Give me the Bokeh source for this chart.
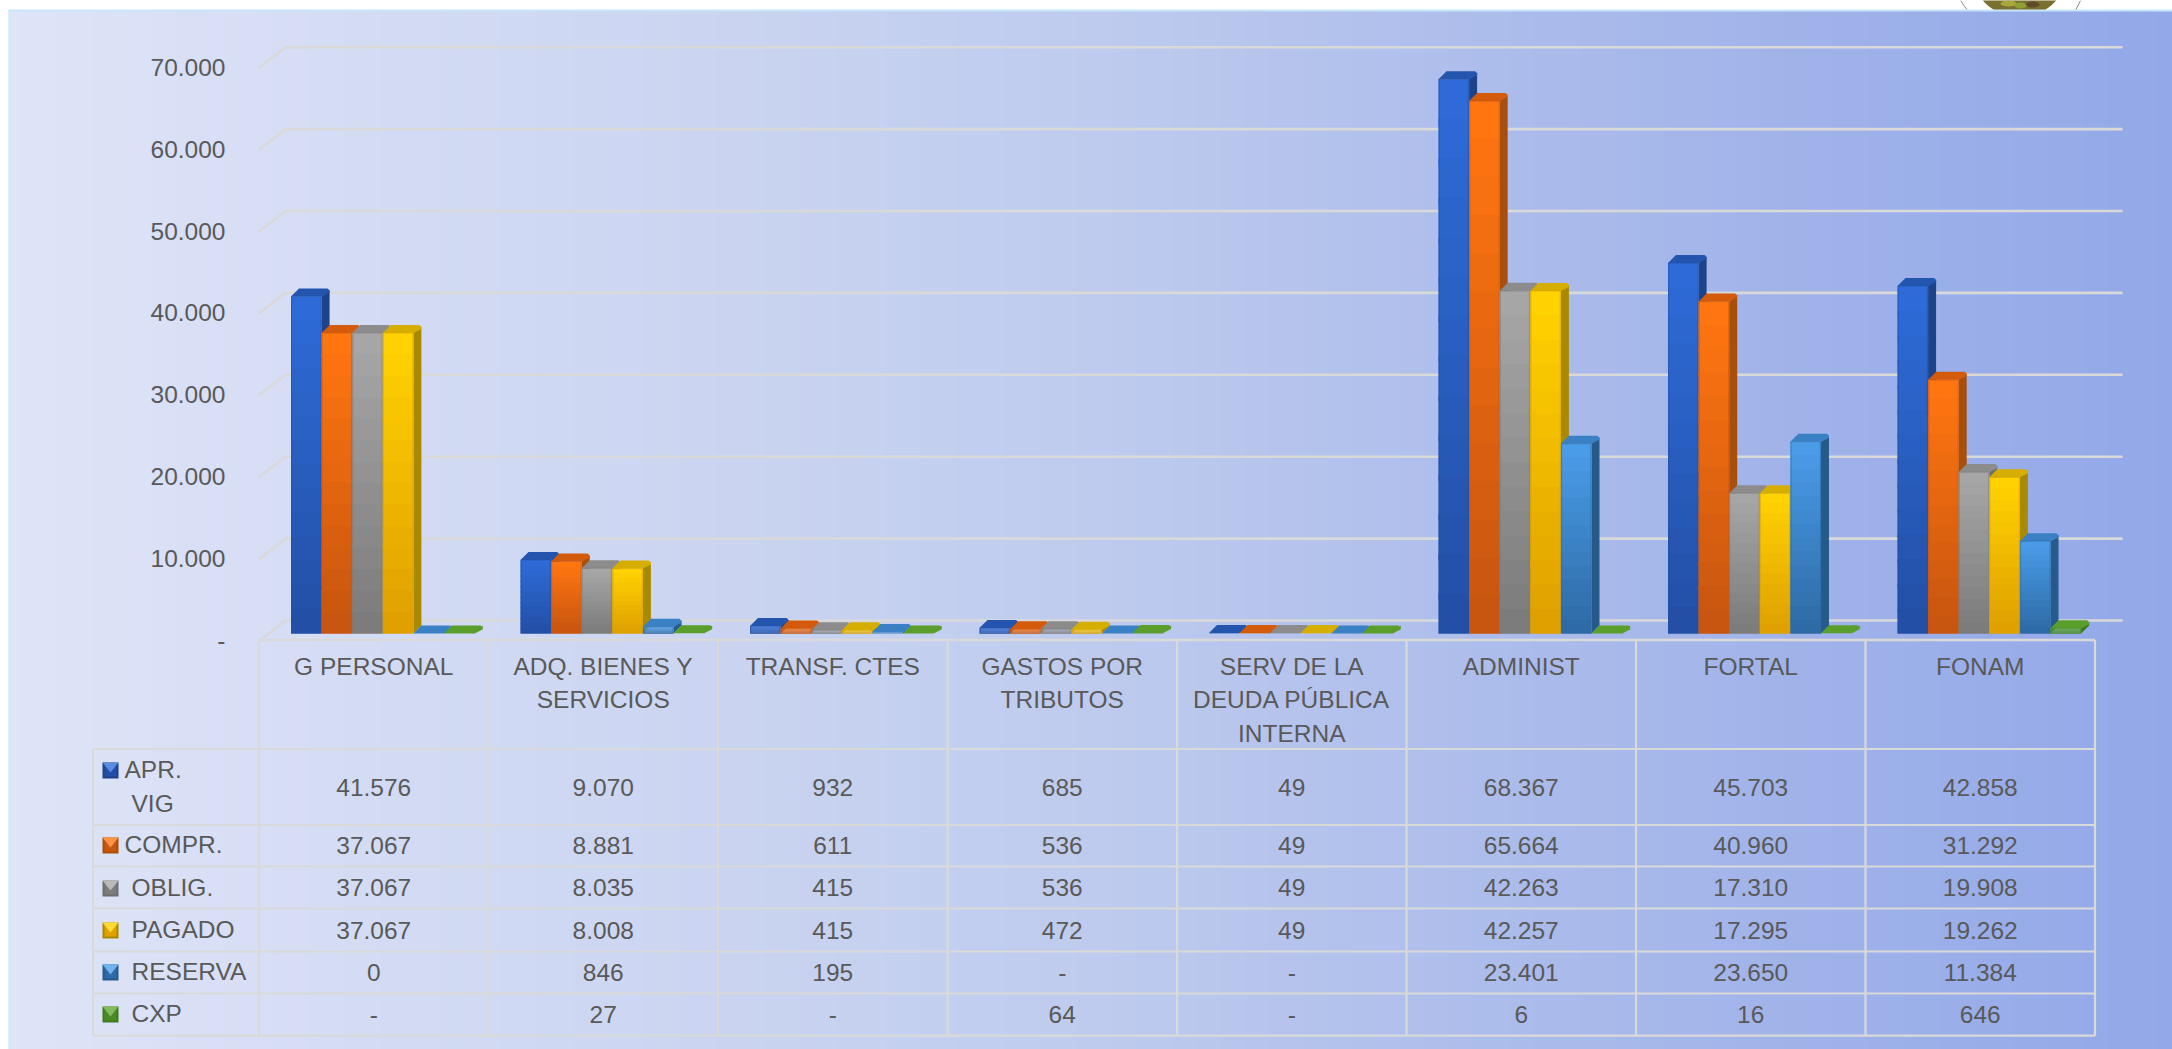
from bokeh.plotting import figure
from bokeh.models import Range1d
from bokeh.core.properties import value
from bokeh.embed import file_html
from bokeh.resources import INLINE

# ---------- data ----------
categories = ["G PERSONAL", "ADQ. BIENES Y\nSERVICIOS", "TRANSF. CTES", "GASTOS POR\nTRIBUTOS",
              "SERV DE LA\nDEUDA PÚBLICA\nINTERNA", "ADMINIST", "FORTAL", "FONAM"]
apr_vig = [41576, 9070, 932, 685, 49, 68367, 45703, 42858]
compr = [37067, 8881, 611, 536, 49, 65664, 40960, 31292]
oblig = [37067, 8035, 415, 536, 49, 42263, 17310, 19908]
pagado = [37067, 8008, 415, 472, 49, 42257, 17295, 19262]
reserva = [0, 846, 195, None, None, 23401, 23650, 11384]
cxp = [None, 27, None, 64, None, 6, 16, 646]
tick_values = [0, 10000, 20000, 30000, 40000, 50000, 60000, 70000]
tick_labels = ["-", "10.000", "20.000", "30.000", "40.000", "50.000", "60.000", "70.000"]
series_names = ["APR.\nVIG", "COMPR.", "OBLIG.", "PAGADO", "RESERVA", "CXP"]
series_values = [apr_vig, compr, oblig, pagado, reserva, cxp]

# ---------- style ----------
FONT = value("Liberation Sans")
TXT = "#595959"
GRID = "#D9D9D9"
FS = "24.5px"
palette = [
    ("#2E6BD8", "#2350A6", "#2355AE", "#1D4388"),
    ("#FF7610", "#C85510", "#D45A0C", "#A94F0C"),
    ("#A6A6A6", "#7C7C7C", "#8C8C8C", "#6E6E6E"),
    ("#FFD200", "#DFA000", "#D6AE00", "#A88900"),
    ("#4A9CE8", "#2E6BA6", "#3A80C4", "#255A8A"),
    ("#5FA82F", "#4A8A25", "#5A9E2C", "#3E7A20"),
]
W, H = 2172, 1049
PXV = 0.00819                 # pixels per unit on the back wall
Y0 = 620.0                    # page y of value 0 on the back wall
def py(v):  # page px -> value
    return (Y0 - v) / PXV

p = figure(width=W, height=H, output_backend="svg", toolbar_location=None,
           x_range=Range1d(0, W), y_range=Range1d(py(H), py(0)),
           min_border=0, min_border_left=0, min_border_right=0, min_border_top=0, min_border_bottom=0)
p.axis.visible = False
p.grid.visible = False
p.outline_line_color = None
p.background_fill_color = "white"
p.border_fill_color = "white"

# seal at the top right, cut by the panel
p.ellipse(x=[2019], y=[py(-32.5)], width=[98], height=[98 / PXV], fill_color="#7A7030", line_color=None)
p.ellipse(x=[2008, 2032, 2020], y=[py(3), py(4), py(5)], width=[16, 14, 12], height=[6 / PXV] * 3,
          fill_color=["#A9A83A", "#5F4A2A", "#8FA035"], line_color=None)
p.segment(x0=[1960, 2080], x1=[1967, 2075], y0=[py(0)] * 2, y1=[py(10)] * 2, line_color="#8A8A8A", line_width=1)

# ---------- background gradient ----------
stops = [(8, (223, 229, 247)), (290, (214, 221, 245)), (700, (203, 213, 241)), (1100, (190, 203, 238)),
         (1500, (172, 188, 235)), (1850, (158, 177, 233)), (2172, (146, 168, 232))]
def grad(x):
    for (a, ca), (b, cb) in zip(stops, stops[1:]):
        if x <= b:
            t = (x - a) / (b - a)
            return tuple(int(round(ca[i] + (cb[i] - ca[i]) * t)) for i in range(3))
    return stops[-1][1]
edges = list(range(8, 2172, 12)) + [2172]
p.quad(left=edges[:-1], right=[min(e + 13, W) for e in edges[:-1]], top=py(10), bottom=py(H + 2),
       fill_color=["#%02X%02X%02X" % grad(e + 6) for e in edges[:-1]], line_color=None)
p.segment(x0=[8], x1=[2172], y0=[py(10)], y1=[py(10)], line_color="#C6E6FA", line_width=2)
p.segment(x0=[9], x1=[9], y0=[py(10)], y1=[py(H)], line_color="#CFEBFB", line_width=2)

# ---------- grid ----------
DX, DY = 27, 20.5
XB, XR, XL = 285, 2122, 258.5
p.segment(x0=[XB] * 8, x1=[XR] * 8, y0=tick_values, y1=tick_values, line_color=GRID, line_width=2.6)
p.segment(x0=[XL] * 8, x1=[XB] * 8, y0=[v - DY / PXV for v in tick_values], y1=tick_values,
          line_color=GRID, line_width=2.6)
p.text(x=[225] * 8, y=[v - 20 / PXV for v in tick_values],
       text=tick_labels, text_font=FONT, text_font_size=FS, text_color=TXT,
       text_align="right", text_baseline="middle")

# ---------- table ----------
COL = 229.5
rows_y = [748.5, 824.5, 866, 908, 951, 993, 1035.2]
TOP_T = 639.5
LEG_L = 92.6
col_edges = [XL + COL * i for i in range(len(categories) + 1)]
p.segment(x0=col_edges, x1=col_edges, y0=[py(TOP_T)] * len(col_edges), y1=[py(rows_y[-1])] * len(col_edges),
          line_color=GRID, line_width=2.2)
p.segment(x0=[XL], x1=[col_edges[-1]], y0=[py(TOP_T)], y1=[py(TOP_T)], line_color=GRID, line_width=2.6)
p.segment(x0=[LEG_L] * len(rows_y), x1=[col_edges[-1]] * len(rows_y), y0=[py(r) for r in rows_y],
          y1=[py(r) for r in rows_y], line_color=GRID, line_width=2.2)
p.segment(x0=[LEG_L], x1=[LEG_L], y0=[py(rows_y[0])], y1=[py(rows_y[-1])], line_color=GRID, line_width=2.2)

# category labels
xs, ys, ts = [], [], []
for i, c in enumerate(categories):
    for j, line in enumerate(c.split("\n")):
        xs.append(col_edges[i] + COL / 2)
        ys.append(py(665.5 + 33.5 * j))
        ts.append(line)
p.text(x=xs, y=ys, text=ts, text_font=FONT, text_font_size=FS, text_color=TXT,
       text_align="center", text_baseline="middle")

# values
def fmt(v):
    if v is None:
        return "-"
    return f"{v:,}".replace(",", ".")
row_c = [786.5, 844.5, 887, 929.5, 972, 1014]
xs, ys, ts = [], [], []
for s, vals in enumerate(series_values):
    for i, v in enumerate(vals):
        xs.append(col_edges[i] + COL / 2)
        ys.append(py(row_c[s]))
        ts.append(fmt(v))
p.text(x=xs, y=ys, text=ts, text_font=FONT, text_font_size=FS, text_color=TXT,
       text_align="center", text_baseline="middle")

def mix(a, b, t):
    ca = [int(a[i:i + 2], 16) for i in (1, 3, 5)]
    cb = [int(b[i:i + 2], 16) for i in (1, 3, 5)]
    return "#%02X%02X%02X" % tuple(int(round(ca[i] + (cb[i] - ca[i]) * t)) for i in range(3))

# legend keys and labels
key_c = [770, 845, 888, 930, 972, 1014]
label_x = [124, 124, 131, 131, 131, 131]
for s, name in enumerate(series_names):
    c_top, c_bot, c_face, c_side = palette[s]
    k = key_c[s]
    p.quad(left=[102], right=[118], top=[py(k - 8)], bottom=[py(k + 8)], fill_color=c_side, line_color=None)
    p.quad(left=[104], right=[116], top=[py(k - 6)], bottom=[py(k + 6)], fill_color=c_bot, line_color=None)
    p.patch(x=[102, 118, 110], y=[py(k - 8), py(k - 8), py(k + 2)], fill_color=mix(c_top, "#FFFFFF", 0.22), line_color=None)
    parts = name.split("\n")
    p.text(x=[label_x[s]], y=[py(k - 1)], text=[parts[0]], text_font=FONT, text_font_size=FS, text_color=TXT,
           text_baseline="middle")
    if len(parts) > 1:
        p.text(x=[131], y=[py(k + 33)], text=[parts[1]], text_font=FONT, text_font_size=FS, text_color=TXT,
               text_baseline="middle")

# ---------- 3-D bars ----------
BAR_W, OFF, BX, BY = 30.6, 32.0, 8.0, 8.0
BASE = py(633.0)
SCALE = 0.99
STEPS = 14
CUT = 2.0   # chamfer of the soft corners, in px

for s, vals in enumerate(series_values):
    c_top, c_bot, c_face, c_side = palette[s]
    heights = [0 if v is None else v for v in vals]
    lefts = [col_edges[i] + OFF + s * BAR_W for i in range(len(vals))]
    tops = [BASE + h * SCALE for h in heights]
    by = BY / PXV
    cy = CUT / PXV
    # side faces
    p.patches(xs=[[l + BAR_W, l + BAR_W + BX, l + BAR_W + BX, l + BAR_W] for l in lefts],
              ys=[[t, t + by - cy, BASE + by, BASE] for t in tops],
              fill_color=c_side, line_color=None)
    # top faces with soft corners
    p.patches(xs=[[l, l + BX - CUT, l + BX, l + BAR_W + BX - CUT, l + BAR_W + BX, l + BAR_W + BX, l + BAR_W] for l in lefts],
              ys=[[t, t + by - cy, t + by, t + by, t + by - cy, t + by - 2 * cy, t] for t in tops],
              fill_color=c_face, line_color=None)
    # front faces, shaded from top to bottom
    L, R, T, B, C = [], [], [], [], []
    for l, t in zip(lefts, tops):
        if t <= BASE:
            continue
        for k in range(STEPS):
            a = t + (BASE - t) * k / STEPS
            b = t + (BASE - t) * (k + 1.15) / STEPS
            L.append(l); R.append(l + BAR_W); T.append(a); B.append(max(b, BASE))
            C.append(mix(c_top, c_bot, k / (STEPS - 1)))
    p.quad(left=L, right=R, top=T, bottom=B, fill_color=C, line_color=None)
    # soft darker edge
    bars = [(l, t) for l, t in zip(lefts, tops) if t > BASE + 30 / PXV * 0.1]
    p.quad(left=[b[0] + 0.6 for b in bars], right=[b[0] + BAR_W - 0.6 for b in bars],
           top=[b[1] for b in bars], bottom=[BASE] * len(bars),
           fill_alpha=0, line_color=c_bot, line_alpha=0.55, line_width=1.2)

open("out.html", "w").write(file_html(p, INLINE))
